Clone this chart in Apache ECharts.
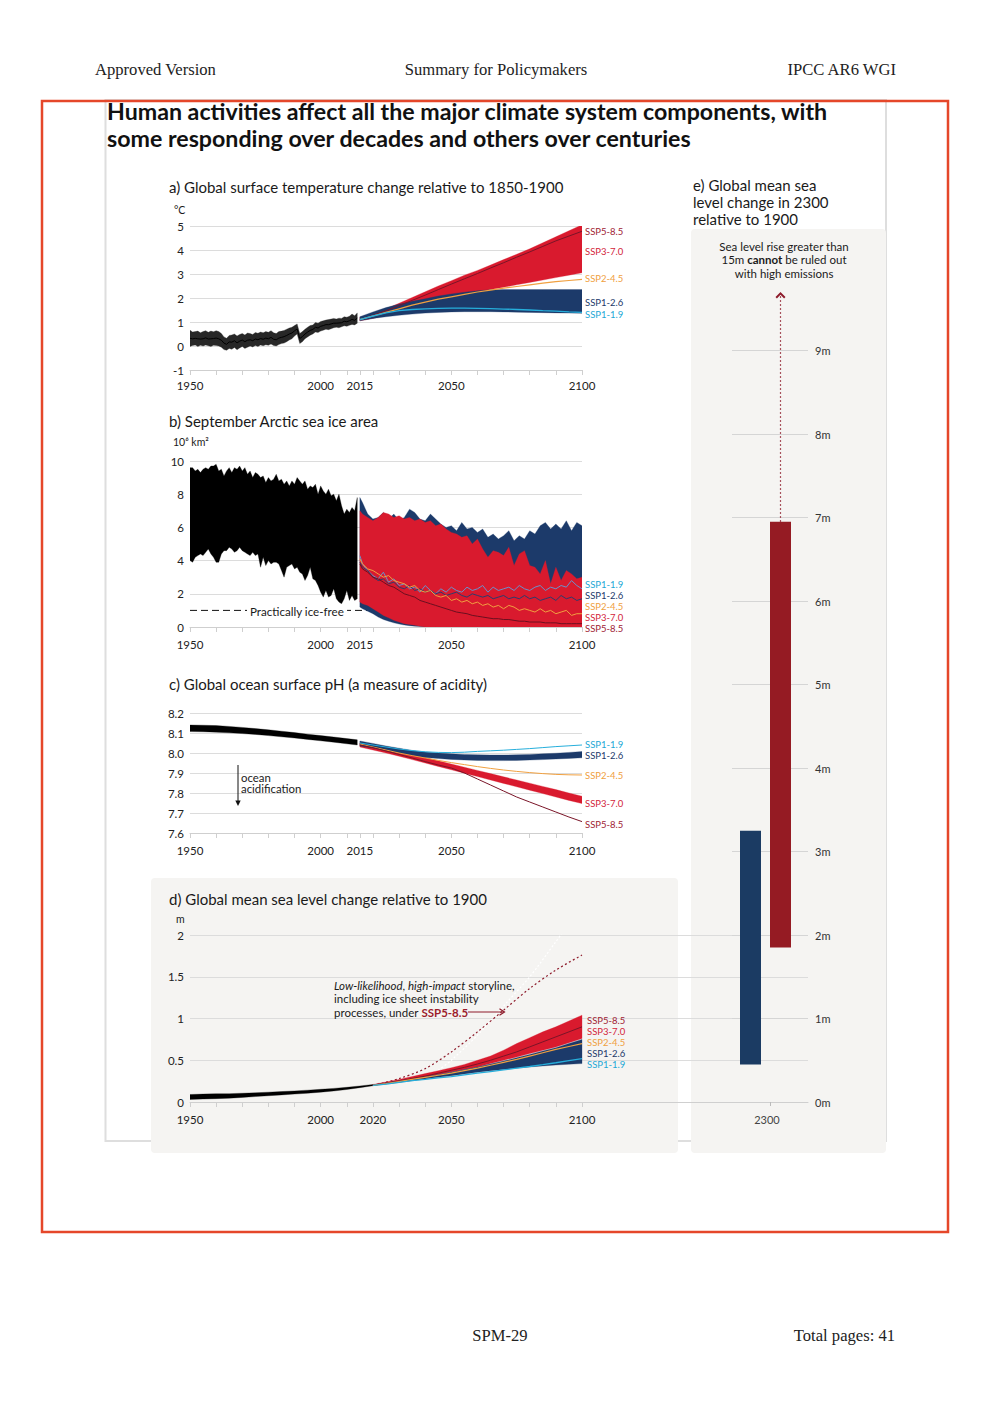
<!DOCTYPE html>
<html><head><meta charset="utf-8">
<script src="https://cdn.jsdelivr.net/npm/echarts@6/dist/echarts.min.js"></script>
<style>html,body{margin:0;padding:0;background:#fff}#c{width:992px;height:1403px}</style>
</head><body><div id="c"></div>
<script>
function range(a, b, s) { const r = []; for (let v = a; v <= b + 1e-9; v += s) r.push(Math.round(v * 100) / 100); return r; }

// ---------------- DATA ----------------
// a) Global surface temperature change (°C, relative to 1850-1900)
const yearsHistA = range(1950, 2014, 1);
const histLoA = [-0.02,0.02,0.04,-0.02,0.03,0.00,0.04,0.01,-0.02,0.03,
  0.02,0.00,-0.05,-0.15,-0.18,-0.10,-0.14,-0.06,-0.16,-0.08,
  -0.02,-0.10,-0.05,0.00,-0.04,0.02,-0.02,0.04,0.01,0.05,
  0.03,0.08,0.02,0.00,0.06,0.10,0.12,0.18,0.25,0.30,
  0.42,0.50,0.10,0.18,0.30,0.38,0.45,0.50,0.58,0.56,
  0.62,0.66,0.70,0.68,0.72,0.76,0.78,0.76,0.80,0.84,
  0.82,0.86,0.90,0.88,0.95];
const histHiA = [0.66,0.58,0.60,0.62,0.55,0.60,0.64,0.57,0.62,0.59,
  0.64,0.60,0.52,0.38,0.32,0.44,0.46,0.50,0.42,0.48,
  0.52,0.46,0.54,0.52,0.48,0.56,0.53,0.58,0.55,0.60,
  0.57,0.64,0.55,0.52,0.60,0.62,0.65,0.70,0.75,0.78,
  0.85,0.92,0.52,0.60,0.70,0.78,0.85,0.88,0.98,0.95,
  1.02,1.05,1.08,1.10,1.12,1.15,1.12,1.16,1.15,1.22,
  1.20,1.24,1.33,1.26,1.38];
const histMeanA = [0.32,0.30,0.32,0.30,0.29,0.30,0.34,0.29,0.30,0.31,
  0.33,0.30,0.24,0.12,0.07,0.17,0.16,0.22,0.13,0.20,
  0.25,0.18,0.24,0.26,0.22,0.29,0.26,0.31,0.28,0.33,
  0.30,0.36,0.28,0.26,0.33,0.36,0.39,0.44,0.50,0.54,
  0.63,0.71,0.31,0.39,0.50,0.58,0.65,0.69,0.78,0.75,
  0.82,0.85,0.89,0.89,0.92,0.95,0.95,0.96,0.97,1.03,
  1.01,1.05,1.11,1.07,1.16];
const yearsProjA = range(2015, 2100, 5);
const ssp126LoA = [1.05,1.15,1.22,1.28,1.33,1.37,1.40,1.42,1.43,1.43,1.43,1.42,1.41,1.40,1.39,1.38,1.37,1.36];
const ssp126HiA = [1.22,1.42,1.60,1.74,1.86,1.97,2.08,2.17,2.24,2.30,2.34,2.35,2.35,2.35,2.35,2.35,2.35,2.35];
const ssp370LoA = [1.05,1.15,1.28,1.42,1.56,1.70,1.84,1.96,2.10,2.22,2.35,2.45,2.55,2.65,2.75,2.85,2.95,3.05];
const ssp370HiA = [1.20,1.35,1.55,1.78,2.02,2.26,2.50,2.72,2.95,3.15,3.37,3.60,3.82,4.05,4.30,4.55,4.80,5.05];
const ssp585A   = [1.10,1.28,1.47,1.68,1.90,2.12,2.35,2.58,2.80,3.02,3.25,3.47,3.70,3.92,4.15,4.38,4.58,4.78];
const ssp245A   = [1.10,1.25,1.40,1.55,1.70,1.83,1.95,2.05,2.15,2.25,2.33,2.41,2.48,2.55,2.62,2.68,2.73,2.78];
const ssp119A   = [1.10,1.25,1.38,1.47,1.52,1.55,1.57,1.58,1.58,1.57,1.56,1.54,1.52,1.50,1.47,1.45,1.42,1.40];
const ticksA = [1950,1960,1970,1980,1990,2000,2010,2015,2020,2030,2040,2050,2060,2070,2080,2090,2100];
const labelsA = [1950,2000,2015,2050,2100];

// b) September Arctic sea ice area (10^6 km²)
const yearsHistB = range(1950, 2014, 1);
const histHiB = [9.6,9.6,9.4,9.5,9.3,9.5,9.6,9.5,9.7,9.7,
  9.8,9.4,9.5,9.1,9.4,9.6,9.3,9.6,9.5,9.7,
  9.4,9.6,9.2,9.4,9.0,9.3,9.2,9.0,9.1,8.7,
  9.0,8.8,8.9,9.2,8.8,8.9,8.6,8.8,8.5,8.8,
  8.6,9.0,8.8,8.6,8.8,8.3,8.5,8.4,8.6,8.0,
  8.5,8.2,8.0,8.3,7.9,8.0,7.6,8.0,7.3,6.8,
  7.1,6.9,7.2,7.0,7.8];
const histLoB = [4.0,3.9,4.2,4.3,4.4,4.3,4.5,4.7,4.4,4.2,
  3.9,3.9,4.4,4.6,4.6,4.8,4.7,4.5,4.6,4.8,
  4.6,4.5,4.4,4.3,4.5,4.3,4.4,3.6,4.2,3.7,
  4.0,3.8,3.9,3.9,3.8,3.4,3.0,3.6,3.7,3.8,
  3.5,3.6,3.3,3.2,2.8,3.1,3.6,2.9,2.8,2.5,
  2.1,1.8,2.2,1.8,1.9,2.3,1.7,1.5,1.4,1.7,
  2.2,1.6,1.9,1.6,1.7];
const yearsProjB = [2015].concat(range(2016, 2100, 2));
const ssp126HiB = [7.8,7.5,6.8,6.5,6.6,6.9,6.5,6.8,6.4,6.6,7.1,6.9,6.5,6.4,6.8,6.5,6.2,6.0,6.1,5.8,6.3,5.9,6.0,5.7,5.9,5.4,5.6,5.3,5.5,5.8,5.2,5.5,5.3,5.8,5.6,6.1,6.3,5.9,6.2,5.9,6.4,5.8,6.3,6.1];
const ssp126LoB = [1.2,1.1,0.95,0.8,0.6,0.45,0.35,0.25,0.18,0.12,0.08,0.05,0.03,0,0,0,0,0,0,0,0,0,0,0,0,0,0,0,0,0,0,0,0,0,0,0,0,0,0,0,0,0,0,0];
const ssp370HiB = [7.0,6.8,6.6,6.4,6.6,6.9,6.8,6.6,6.7,6.5,6.6,6.4,6.5,6.3,6.4,6.1,6.2,5.9,5.7,5.6,5.4,5.5,5.0,5.3,4.7,4.2,4.6,4.5,4.3,4.8,3.7,4.4,4.6,3.7,3.6,3.2,4.0,2.6,3.6,2.8,3.4,3.2,2.9,3.0];
const ssp370LoB = [1.5,1.4,1.3,1.1,0.9,0.7,0.55,0.4,0.3,0.2,0.15,0.1,0.05,0,0,0,0,0,0,0,0,0,0,0,0,0,0,0,0,0,0,0,0,0,0,0,0,0,0,0,0,0,0,0];
const ssp119B = [4.3,3.8,3.4,3.1,2.9,3.3,2.7,2.9,2.5,2.6,2.3,2.4,2.1,2.5,2.2,2.0,2.3,2.1,2.4,2.2,2.1,2.4,2.2,2.3,2.5,2.1,2.4,2.2,2.3,2.4,2.2,2.5,2.3,2.2,2.4,2.5,2.2,2.4,2.3,2.5,2.4,2.8,2.5,2.3];
const ssp126B = [3.9,3.6,3.4,3.0,2.8,2.9,2.6,2.7,2.4,2.3,2.5,2.2,2.3,2.1,2.2,2.0,2.1,1.9,2.0,2.1,1.9,1.8,2.0,1.9,1.8,1.9,1.7,1.8,1.9,1.7,1.8,1.7,1.9,1.7,1.8,1.6,1.7,1.8,1.6,1.9,1.7,1.8,1.6,1.7];
const ssp245B = [4.1,3.8,3.5,3.4,3.2,3.0,3.1,2.8,2.7,2.6,2.4,2.5,2.2,2.1,2.2,1.9,1.8,1.9,1.6,1.7,1.5,1.6,1.4,1.5,1.3,1.4,1.2,1.3,1.1,1.3,1.2,1.0,1.1,1.0,0.9,1.1,0.9,1.0,0.8,0.9,1.0,0.7,0.8,0.8];
const ssp585B = [3.8,3.5,3.3,3.0,2.9,2.7,2.5,2.4,2.2,2.0,1.9,1.8,1.6,1.5,1.4,1.3,1.2,1.1,1.0,0.9,0.85,0.8,0.7,0.65,0.6,0.55,0.5,0.5,0.45,0.45,0.4,0.35,0.35,0.3,0.3,0.3,0.25,0.25,0.25,0.2,0.2,0.2,0.2,0.2];
const iceFreeYears = [1950, 2100];
const iceFreeLevel = 1;

// c) Global ocean surface pH
const yearsHistC = [1950,1955,1960,1965,1970,1975,1980,1985,1990,1995,2000,2005,2010,2014];
const histLoC = [8.107,8.106,8.104,8.101,8.097,8.093,8.087,8.081,8.075,8.068,8.061,8.054,8.046,8.040];
const histHiC = [8.140,8.139,8.137,8.133,8.128,8.122,8.116,8.109,8.102,8.094,8.087,8.080,8.072,8.066];
const yearsProjC = range(2015, 2100, 5);
const ssp126LoC = [8.035,8.025,8.012,8.000,7.988,7.978,7.972,7.968,7.965,7.963,7.962,7.962,7.963,7.965,7.967,7.970,7.973,7.976];
const ssp126HiC = [8.060,8.048,8.035,8.024,8.013,8.005,8.000,7.996,7.993,7.991,7.990,7.990,7.991,7.993,7.996,7.999,8.003,8.007];
const ssp370LoC = [8.030,8.015,8.000,7.984,7.967,7.950,7.933,7.916,7.899,7.882,7.865,7.848,7.831,7.814,7.797,7.780,7.763,7.747];
const ssp370HiC = [8.050,8.037,8.023,8.008,7.993,7.977,7.961,7.945,7.929,7.913,7.897,7.881,7.865,7.849,7.833,7.817,7.800,7.784];
const ssp119C = [8.050,8.040,8.030,8.020,8.012,8.006,8.003,8.002,8.004,8.008,8.011,8.014,8.018,8.022,8.027,8.032,8.036,8.040];
const ssp245C = [8.045,8.030,8.015,8.000,7.987,7.975,7.963,7.952,7.942,7.932,7.923,7.915,7.908,7.902,7.897,7.893,7.891,7.890];
const ssp585C = [8.040,8.027,8.010,7.993,7.975,7.957,7.940,7.925,7.900,7.870,7.840,7.810,7.780,7.755,7.730,7.705,7.680,7.657];

// d) Global mean sea level change relative to 1900 (m)
const yearsHistD = range(1950, 2020, 5);
const histLoD = [0.030,0.035,0.040,0.045,0.055,0.065,0.075,0.085,0.095,0.105,0.118,0.132,0.150,0.172,0.195];
const histHiD = [0.090,0.095,0.100,0.100,0.105,0.110,0.118,0.125,0.133,0.142,0.152,0.163,0.176,0.192,0.210];
const yearsProjD = range(2020, 2100, 5);
const ssp126LoD = [0.195,0.215,0.235,0.255,0.275,0.295,0.315,0.335,0.355,0.375,0.390,0.405,0.420,0.432,0.443,0.452,0.460];
const ssp126HiD = [0.205,0.230,0.255,0.280,0.305,0.330,0.360,0.390,0.420,0.455,0.490,0.530,0.570,0.610,0.650,0.700,0.750];
const ssp370LoD = [0.200,0.220,0.245,0.270,0.300,0.330,0.360,0.390,0.420,0.460,0.500,0.540,0.580,0.620,0.660,0.710,0.760];
const ssp370HiD = [0.210,0.240,0.270,0.305,0.340,0.375,0.410,0.450,0.500,0.550,0.620,0.700,0.770,0.840,0.900,0.970,1.040];
const ssp585D = [0.200,0.225,0.250,0.280,0.310,0.345,0.380,0.415,0.455,0.500,0.550,0.600,0.660,0.720,0.780,0.840,0.900];
const ssp245D = [0.200,0.220,0.245,0.270,0.295,0.320,0.345,0.375,0.405,0.440,0.475,0.510,0.550,0.590,0.630,0.665,0.700];
const ssp119D = [0.200,0.215,0.235,0.255,0.270,0.290,0.305,0.325,0.345,0.365,0.385,0.405,0.425,0.447,0.470,0.495,0.520];
const yearsLLHI = range(2020, 2100, 10);
const llhiD = [0.20,0.28,0.40,0.60,0.84,1.10,1.36,1.58,1.76];
const yearsLLHIupper = [2045,2050,2060,2070,2080,2090,2100];
const llhiUpperD = [0.38,0.50,0.80,1.15,1.50,1.92,2.35];
const ticksD = range(1950, 2100, 10);
const labelsD = [1950,2000,2020,2050,2100];

// e) Global mean sea level change in 2300 relative to 1900 (m)
const scenE = ['SSP1-2.6', 'SSP5-8.5'];
const loE = [0.45, 1.85];
const hiE = [3.25, 6.95];
const arrowTopE = 9.65; // ">15m cannot be ruled out" arrow
const yearE = ['2300'];

// ---------------- STYLE ----------------
const F = 'Lato, "Noto Sans", sans-serif';
const SERIF = '"Liberation Serif", "DejaVu Serif", serif';
const COL = {
  navy: '#1c3a6a', red: '#d91a2e', orange: '#f0a040', cyan: '#26aedb',
  steel: '#6a92cc', navyLine: '#2b3c6e', hist: '#272727', black: '#000',
  barBlue: '#1b3b63', barRed: '#951b23', bg: '#f5f4f2'
};
const LAB = { s585: '#a01c33', s370: '#d3243b', s245: '#f0a040', s126: '#22396a', s119: '#22a8d6' };

// band drawn as a polygon through the axes' own scale (api.coord)
function band(gi, xs, lo, hi, color, z) {
  return { type: 'custom', xAxisIndex: gi, yAxisIndex: gi, z, silent: true, clip: true,
    data: [[xs[0], lo[0]]],
    renderItem: function (params, api) {
      const pts = [];
      for (let i = 0; i < xs.length; i++) pts.push(api.coord([xs[i], hi[i]]));
      for (let i = xs.length - 1; i >= 0; i--) pts.push(api.coord([xs[i], lo[i]]));
      return { type: 'polygon', shape: { points: pts }, style: { fill: color, stroke: color, lineWidth: 0.3 } };
    } };
}
function line(gi, xs, ys, color, width, z, smooth, extra) {
  return Object.assign({ type: 'line', xAxisIndex: gi, yAxisIndex: gi, symbol: 'none', smooth: smooth || false,
    data: xs.map((x, i) => [x, ys[i]]), lineStyle: { color, width }, z, silent: true }, extra || {});
}
function yAx(gi, min, max, interval, fmt) {
  return { gridIndex: gi, type: 'value', min, max, interval,
    axisLine: { show: false }, axisTick: { show: false },
    splitLine: { lineStyle: { color: '#dcdcdc', width: 1 } },
    axisLabel: { color: '#222', fontSize: 11.5, fontFamily: F, margin: 6, formatter: fmt } };
}
function xAx(gi, min, max, ticks, labels, margin) {
  return { gridIndex: gi, type: 'value', min, max, splitLine: { show: false },
    axisLine: { show: true, onZero: false, lineStyle: { color: '#cfcfcf' } },
    axisTick: { show: true, length: 5, lineStyle: { color: '#cfcfcf' }, customValues: ticks },
    axisLabel: { color: '#222', fontSize: 11.5, fontFamily: F, margin, customValues: labels, formatter: v => String(v) } };
}
function T(x, y, text, o) {
  const st = Object.assign({ text, fill: '#1a1a1a', fontFamily: F, fontSize: 15, align: 'left', textAlign: 'left',
    verticalAlign: 'middle', textVerticalAlign: 'middle' }, o || {});
  if (st.align !== 'left') st.textAlign = st.align;
  return { type: 'text', x, y, z: 50, silent: true, style: st };
}
function lab(x, y, text, color) { return T(x, y, text, { fill: color, fontSize: 9.5 }); }

const chart = echarts.init(document.getElementById('c'), null, { renderer: 'svg', width: 992, height: 1403 });

const series = [];
// panel a
series.push(band(0, yearsHistA, histLoA, histHiA, COL.hist, 3));
series.push(line(0, yearsHistA, histMeanA, '#000', 1, 4));
series.push(band(0, yearsProjA, ssp370LoA, ssp370HiA, COL.red, 3));
series.push(band(0, yearsProjA, ssp126LoA, ssp126HiA, COL.navy, 4));
series.push(line(0, yearsProjA, ssp585A, '#7a1528', 1, 6));
series.push(line(0, yearsProjA, ssp245A, COL.orange, 1.2, 6));
series.push(line(0, yearsProjA, ssp119A, COL.cyan, 1.3, 6));
// panel b
series.push(line(1, iceFreeYears, [iceFreeLevel, iceFreeLevel], '#111', 1, 2, false, { lineStyle: { color: '#111', width: 1, type: [7, 4] } }));
series.push(band(1, yearsHistB, histLoB, histHiB, COL.black, 3));
series.push(band(1, yearsProjB, ssp126LoB, ssp126HiB, COL.navy, 3));
series.push(band(1, yearsProjB, ssp370LoB, ssp370HiB, COL.red, 4));
series.push(line(1, yearsProjB, ssp119B, COL.steel, 1, 6));
series.push(line(1, yearsProjB, ssp126B, COL.navyLine, 1, 6));
series.push(line(1, yearsProjB, ssp245B, COL.orange, 1, 6));
series.push(line(1, yearsProjB, ssp585B, '#6b1020', 1, 6));
// panel c
series.push(band(2, yearsHistC, histLoC, histHiC, COL.black, 3));
series.push(band(2, yearsProjC, ssp370LoC, ssp370HiC, COL.red, 3));
series.push(band(2, yearsProjC, ssp126LoC, ssp126HiC, COL.navy, 4));
series.push(line(2, yearsProjC, ssp119C, COL.cyan, 1, 6));
series.push(line(2, yearsProjC, ssp245C, COL.orange, 1, 6));
series.push(line(2, yearsProjC, ssp585C, '#7a1528', 1, 6));
// panel d
series.push(line(3, yearsLLHIupper, llhiUpperD, '#ffffff', 1.2, 2, 0.3, { lineStyle: { color: '#ffffff', width: 1.2, type: [2, 2] } }));
series.push(line(3, yearsLLHI, llhiD, '#8e1b2b', 1.2, 2, 0.3, { lineStyle: { color: '#8e1b2b', width: 1.2, type: [2, 2.5] } }));
series.push(band(3, yearsHistD, histLoD, histHiD, COL.black, 3));
series.push(band(3, yearsProjD, ssp370LoD, ssp370HiD, COL.red, 3));
series.push(band(3, yearsProjD, ssp126LoD, ssp126HiD, COL.navy, 4));
series.push(line(3, yearsProjD, ssp585D, '#7a1528', 1, 6));
series.push(line(3, yearsProjD, ssp245D, COL.orange, 1.2, 6));
series.push(line(3, yearsProjD, ssp119D, COL.cyan, 1.3, 6));
// panel e
const barColors = [COL.barBlue, COL.barRed];
series.push({ type: 'bar', xAxisIndex: 5, yAxisIndex: 5, stack: 'e', barWidth: 21, silent: true,
  data: loE, itemStyle: { color: 'rgba(0,0,0,0)' }, z: 3 });
series.push({ type: 'bar', xAxisIndex: 5, yAxisIndex: 5, stack: 'e', barWidth: 21, silent: true,
  data: hiE.map((h, i) => ({ value: h - loE[i], itemStyle: { color: barColors[i] } })), z: 3 });
series.push({ type: 'line', xAxisIndex: 5, yAxisIndex: 5, clip: false, silent: true, z: 4,
  symbol: 'path://M0,6 L6,0 L12,6 L10.3,7.6 L6,3.3 L1.7,7.6 Z', symbolSize: [10, 6.5], symbolOffset: [0, -1],
  itemStyle: { color: '#8e1b2b' },
  lineStyle: { color: '#8e1b2b', width: 1.2, type: [1.5, 2.5] },
  data: [{ value: [scenE[1], hiE[1]], symbol: 'none' }, { value: [scenE[1], arrowTopE] }] });

const graphics = [
  // frames & backgrounds
  { type: 'rect', z: -10, silent: true, shape: { x: 105.5, y: 100, width: 780.5, height: 1041 }, style: { fill: 'none', stroke: '#dedede', lineWidth: 2 } },
  { type: 'rect', z: -9, silent: true, shape: { x: 151, y: 878, width: 527, height: 275, r: 4 }, style: { fill: COL.bg } },
  { type: 'rect', z: -9, silent: true, shape: { x: 691, y: 229, width: 195, height: 924, r: 4 }, style: { fill: COL.bg } },
  { type: 'rect', z: 60, silent: true, shape: { x: 42, y: 101, width: 906, height: 1131 }, style: { fill: 'none', stroke: '#e5472a', lineWidth: 2.5 } },
  // page header/footer
  T(95, 69, 'Approved Version', { fontFamily: SERIF, fontSize: 16.6, fill: '#222' }),
  T(496, 69, 'Summary for Policymakers', { fontFamily: SERIF, fontSize: 16.6, fill: '#222', align: 'center' }),
  T(896, 69, 'IPCC AR6 WGI', { fontFamily: SERIF, fontSize: 16.6, fill: '#222', align: 'right' }),
  T(500, 1335, 'SPM-29', { fontFamily: SERIF, fontSize: 16.6, fill: '#222', align: 'center' }),
  T(895, 1335, 'Total pages: 41', { fontFamily: SERIF, fontSize: 16.6, fill: '#222', align: 'right' }),
  // headline
  T(107, 111, 'Human activities affect all the major climate system components, with', { fontSize: 23.2, fontWeight: 'bold', fill: '#111' }),
  T(107, 138, 'some responding over decades and others over centuries', { fontSize: 23.2, fontWeight: 'bold', fill: '#111' }),
  // panel titles
  T(169, 187, 'a) Global surface temperature change relative to 1850-1900'),
  T(174, 210, '°C', { fontSize: 10.5 }),
  T(169, 421, 'b) September Arctic sea ice area'),
  T(173, 442, '10⁶ km²', { fontSize: 10.5 }),
  T(169, 684, 'c) Global ocean surface pH (a measure of acidity)'),
  T(169, 899, 'd) Global mean sea level change relative to 1900'),
  T(176, 919, 'm', { fontSize: 10.5 }),
  T(693, 185, 'e) Global mean sea'),
  T(693, 202, 'level change in 2300'),
  T(693, 219, 'relative to 1900'),
  // panel a labels
  lab(585, 231.5, 'SSP5-8.5', LAB.s585), lab(585, 251.5, 'SSP3-7.0', LAB.s370), lab(585, 278.5, 'SSP2-4.5', LAB.s245),
  lab(585, 302.5, 'SSP1-2.6', LAB.s126), lab(585, 314.5, 'SSP1-1.9', LAB.s119),
  // panel b labels
  lab(585, 584.5, 'SSP1-1.9', LAB.s119), lab(585, 595.5, 'SSP1-2.6', LAB.s126), lab(585, 606.5, 'SSP2-4.5', LAB.s245),
  lab(585, 617.5, 'SSP3-7.0', LAB.s370), lab(585, 628.5, 'SSP5-8.5', LAB.s585),
  T(247, 611, 'Practically ice-free', { fontSize: 11.6, backgroundColor: '#fff', padding: [1, 3, 1, 3] }),
  // panel c labels
  lab(585, 744, 'SSP1-1.9', LAB.s119), lab(585, 755, 'SSP1-2.6', LAB.s126), lab(585, 775.5, 'SSP2-4.5', LAB.s245),
  lab(585, 803.5, 'SSP3-7.0', LAB.s370), lab(585, 824.5, 'SSP5-8.5', LAB.s585),
  { type: 'line', z: 50, silent: true, shape: { x1: 238, y1: 765, x2: 238, y2: 802 }, style: { stroke: '#111', lineWidth: 1 } },
  { type: 'polygon', z: 50, silent: true, shape: { points: [[235.3, 800.5], [240.7, 800.5], [238, 806]] }, style: { fill: '#111' } },
  T(241, 777.5, 'ocean', { fontSize: 11.4 }),
  T(241, 788.5, 'acidification', { fontSize: 11.4 }),
  // panel d labels
  lab(587, 1020, 'SSP5-8.5', LAB.s585), lab(587, 1031, 'SSP3-7.0', LAB.s370), lab(587, 1042, 'SSP2-4.5', LAB.s245),
  lab(587, 1053, 'SSP1-2.6', LAB.s126), lab(587, 1064, 'SSP1-1.9', LAB.s119),
  T(334, 985, '{i|Low-likelihood}, {i|high-impact} storyline,', { fontSize: 11.5,
    rich: { i: { fontStyle: 'italic', fontSize: 11.5, fontFamily: F, fill: '#1a1a1a', color: '#1a1a1a' } } }),
  T(334, 998.5, 'including ice sheet instability', { fontSize: 11.5 }),
  T(334, 1012, 'processes, under {b|SSP5-8.5}', { fontSize: 11.5,
    rich: { b: { fontWeight: 'bold', fontSize: 11.5, fontFamily: F, fill: '#9c1c2c', color: '#9c1c2c' } } }),
  { type: 'line', z: 50, silent: true, shape: { x1: 468, y1: 1012, x2: 504, y2: 1012 }, style: { stroke: '#8e1b2b', lineWidth: 1 } },
  { type: 'polyline', z: 50, silent: true, shape: { points: [[499.5, 1008.8], [504.5, 1012], [499.5, 1015.2]] }, style: { stroke: '#8e1b2b', lineWidth: 1.2, fill: 'none' } },
  // panel e note
  T(784, 246, 'Sea level rise greater than', { fontSize: 11.5, align: 'center' }),
  T(784, 259.5, '15m {b|cannot} be ruled out', { fontSize: 11.5, align: 'center',
    rich: { b: { fontWeight: 'bold', fontSize: 11.5, fontFamily: F, fill: '#1a1a1a', color: '#1a1a1a' } } }),
  T(784, 273, 'with high emissions', { fontSize: 11.5, align: 'center' })
];

const option = {
  animation: false,
  grid: [
    { left: 190, top: 226, width: 392, height: 144 },
    { left: 190, top: 461, width: 392, height: 166 },
    { left: 190, top: 713, width: 392, height: 120 },
    { left: 190, top: 935, width: 618, height: 167 },
    { left: 732, top: 350.5, width: 76, height: 751.5 },
    { left: 735.5, top: 350.5, width: 60, height: 751.5 }
  ],
  xAxis: [
    xAx(0, 1950, 2100, ticksA, labelsA, 9),
    xAx(1, 1950, 2100, ticksA, labelsA, 11),
    xAx(2, 1950, 2100, ticksA, labelsA, 11),
    xAx(3, 1950, 1950 + 150 * 618 / 392, ticksD, labelsD, 11),
    { gridIndex: 4, type: 'category', data: yearE, boundaryGap: true,
      axisLine: { show: false }, axisTick: { show: true, alignWithLabel: true, length: 4, lineStyle: { color: '#bbb' } },
      axisLabel: { color: '#444', fontSize: 11, fontFamily: F, margin: 12, padding: [0, 6, 0, 0] } },
    { gridIndex: 5, type: 'category', data: scenE, show: false }
  ],
  yAxis: [
    yAx(0, -1, 5, 1),
    yAx(1, 0, 10, 2),
    yAx(2, 7.6, 8.2, 0.1, v => v.toFixed(1)),
    yAx(3, 0, 2, 0.5),
    Object.assign(yAx(4, 0, 9, 1, '{value}m'), { position: 'right' }),
    { gridIndex: 5, type: 'value', min: 0, max: 9, show: false, splitLine: { show: false } }
  ],
  series,
  graphic: { elements: graphics }
};
option.yAxis[4].axisLabel = { color: '#333', fontSize: 11, fontFamily: F, margin: 7, formatter: '{value}m' };
option.yAxis[4].splitLine = { lineStyle: { color: '#d5d5d5', width: 1 } };
chart.setOption(option);
</script></body></html>
